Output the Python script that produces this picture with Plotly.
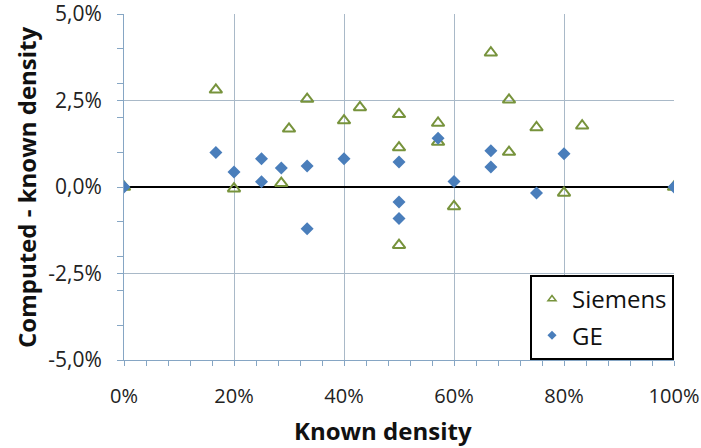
import plotly.graph_objects as go

# Siemens (known density %, computed - known %)
siemens_x = [0, 16.7, 20, 28.6, 30, 33.3, 40, 42.9, 50, 50, 50, 57.1, 57.1, 60, 66.7, 70, 70, 75, 80, 83.3, 100]
siemens_y = [0.0, 2.81, -0.05, 0.11, 1.68, 2.54, 1.92, 2.30, 2.10, 1.14, -1.68, 1.85, 1.30, -0.56, 3.88, 2.52, 1.01, 1.72, -0.17, 1.77, 0.0]

# GE
ge_x = [0, 16.7, 20, 25, 25, 28.6, 33.3, 33.3, 40, 50, 50, 50, 57.1, 60, 66.7, 66.7, 75, 80, 100]
ge_y = [0.0, 1.00, 0.43, 0.82, 0.15, 0.55, 0.61, -1.21, 0.82, 0.72, -0.43, -0.91, 1.41, 0.16, 1.05, 0.58, -0.17, 0.96, 0.0]

x_tickvals = [0, 20, 40, 60, 80, 100]
x_ticktext = ["0%", "20%", "40%", "60%", "80%", "100%"]
y_tickvals = [-5, -2.5, 0, 2.5, 5]
y_ticktext = ["-5,0%", "-2,5%", "0,0%", "2,5%", "5,0%"]

FONT = "Open Sans"
grid = "#a9b9c8"
axc = "#86a6c4"
green = "#77933c"
blue = "#4a7ebb"

fig = go.Figure()
fig.add_trace(go.Scatter(
    x=siemens_x, y=siemens_y, mode="markers", name="Siemens", showlegend=False,
    marker=dict(symbol="triangle-up-open", size=11, color=green, line=dict(width=2, color=green)),
))
fig.add_trace(go.Scatter(
    x=ge_x, y=ge_y, mode="markers", name="GE", showlegend=False,
    marker=dict(symbol="diamond", size=10, color=blue),
))
# legend entries (small symbols as in the reference legend)
fig.add_trace(go.Scatter(
    x=[None], y=[None], mode="markers", name="Siemens", legendgroup="s",
    marker=dict(symbol="triangle-up-open", size=7, color=green, line=dict(width=1.5, color=green)),
))
fig.add_trace(go.Scatter(
    x=[None], y=[None], mode="markers", name="GE", legendgroup="g",
    marker=dict(symbol="diamond", size=7, color=blue),
))

fig.update_layout(
    width=701, height=448,
    margin=dict(l=124, r=27, t=14, b=88, autoexpand=False),
    paper_bgcolor="white", plot_bgcolor="white",
    font=dict(family=FONT, size=20, color="#222"),
    showlegend=True,
    legend=dict(
        x=1, y=0, xanchor="right", yanchor="bottom",
        bordercolor="black", borderwidth=2, bgcolor="white",
        font=dict(family=FONT, size=24, color="#111"),
        traceorder="grouped", tracegroupgap=2, itemwidth=30,
    ),
    xaxis=dict(
        range=[0, 100], tickvals=x_tickvals, ticktext=x_ticktext,
        automargin=False, ticklabeloverflow="allow",
        showgrid=True, gridcolor=grid, gridwidth=1,
        showline=True, linecolor=axc, linewidth=1,
        ticks="outside", ticklen=5, tickcolor=axc,
        minor=dict(dtick=4, tick0=0, ticks="outside", ticklen=5, tickcolor=axc, showgrid=False),
        zeroline=False,
        tickfont=dict(family=FONT, size=20, color="#222"),
        ticklabelstandoff=13,
    ),
    yaxis=dict(
        range=[-5, 5], tickvals=y_tickvals, ticktext=y_ticktext,
        automargin=False, ticklabeloverflow="allow",
        showgrid=True, gridcolor=grid, gridwidth=1,
        showline=True, linecolor=axc, linewidth=1,
        ticks="outside", ticklen=6, tickcolor=axc,
        minor=dict(dtick=1, tick0=0, ticks="outside", ticklen=6, tickcolor=axc, showgrid=False),
        zeroline=True, zerolinecolor="black", zerolinewidth=2,
        tickfont=dict(family=FONT, size=21, color="#222"),
        ticklabelstandoff=11,
    ),
    annotations=[
        dict(text="<b>Known density</b>", xref="paper", yref="paper", x=0.471, y=0,
             yshift=-70, xanchor="center", yanchor="middle", showarrow=False,
             font=dict(family=FONT, size=24, color="#111")),
        dict(text="<b>Computed - known density</b>", xref="paper", yref="paper", x=0, y=0.5,
             xshift=-98, xanchor="center", yanchor="middle", textangle=-90, showarrow=False,
             font=dict(family=FONT, size=24, color="#111")),
    ],
)

# remove the browser's default 8px body margin so the figure fills the window exactly
fig.write_html("out.html", config={"displayModeBar": False},
               post_script="document.body.style.margin='0px';")
